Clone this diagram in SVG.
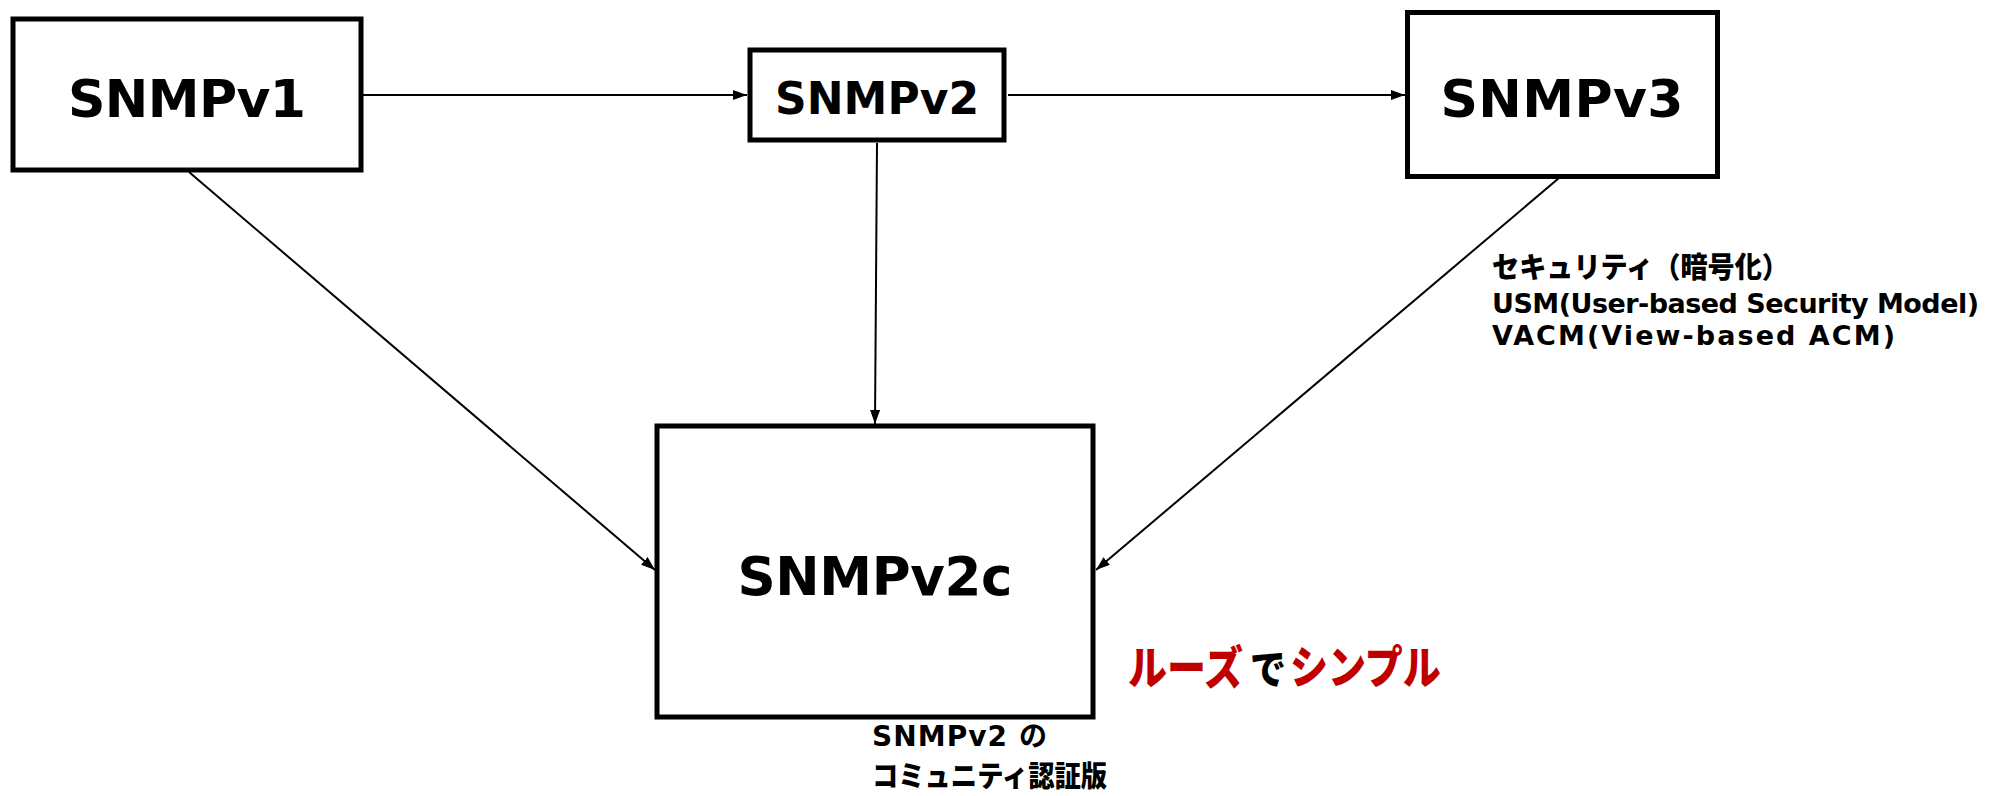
<svg xmlns="http://www.w3.org/2000/svg" width="1990" height="796" viewBox="0 0 1990 796">
<style>
.box{fill:#fff;stroke:#000;stroke-width:5}
.t{font-family:"DejaVu Sans","Noto Sans CJK JP",sans-serif;font-weight:bold;fill:#000}
.j{font-family:"Noto Sans CJK JP",sans-serif;font-weight:900;fill:#000}
.c{stroke:#000;stroke-width:2;fill:none;marker-end:url(#ah)}
.red{fill:#C00000}
</style>
<defs>
<marker id="ah" markerUnits="userSpaceOnUse" markerWidth="14" markerHeight="10" refX="14" refY="5" orient="auto">
<path d="M0,0 L14,5 L0,10 Z" fill="#000"/>
</marker>
</defs>
<rect width="1990" height="796" fill="#fff"/>
<g id="connectors">
<line class="c" x1="363" y1="95" x2="747" y2="95"/>
<line class="c" x1="1008" y1="95" x2="1405" y2="95"/>
<line class="c" x1="189" y1="172" x2="655" y2="570"/>
<line class="c" x1="877" y1="143" x2="875" y2="424"/>
<line class="c" x1="1559" y1="178" x2="1096" y2="570"/>
</g>
<g id="snmpv1">
<rect class="box" x="13" y="19" width="348" height="151"/>
<text class="t" x="187" y="117" font-size="52" text-anchor="middle" textLength="238">SNMPv1</text>
</g>
<g id="snmpv2">
<rect class="box" x="750" y="50" width="254" height="90" stroke-width="4.5"/>
<text class="t" x="877" y="114" font-size="44" text-anchor="middle" textLength="204">SNMPv2</text>
</g>
<g id="snmpv3">
<rect class="box" x="1407.5" y="12.5" width="310" height="164"/>
<text class="t" x="1562" y="117" font-size="52" text-anchor="middle" textLength="243">SNMPv3</text>
</g>
<g id="snmpv2c">
<rect class="box" x="657" y="426" width="436" height="291"/>
<text class="t" x="875" y="595" font-size="53" text-anchor="middle" textLength="275">SNMPv2c</text>
</g>
<g id="security-label">
<text class="j" x="1492" y="278" font-size="29" textLength="297" lengthAdjust="spacingAndGlyphs">セキュリティ（暗号化）</text>
<text class="t" x="1492" y="313" font-size="27" textLength="487">USM(User-based Security Model)</text>
<text class="t" x="1492" y="345" font-size="27" textLength="403">VACM(View-based ACM)</text>
</g>
<g id="v2c-label">
<text class="t" x="872" y="746" font-size="28" textLength="175">SNMPv2 の</text>
<text class="j" x="872" y="787" font-size="29" textLength="235" lengthAdjust="spacingAndGlyphs">コミュニティ認証版</text>
</g>
<g id="loose-label">
<text class="j red" transform="translate(1128,684) scale(1,1.18)" x="0" y="0" font-size="39">ルーズ</text>
<text class="j" transform="translate(1250,684) scale(1,1.15)" x="0" y="0" font-size="36">で</text>
<text class="j red" transform="translate(1290,684) scale(1,1.2)" x="0" y="0" font-size="38">シンプル</text>
</g>
</svg>
